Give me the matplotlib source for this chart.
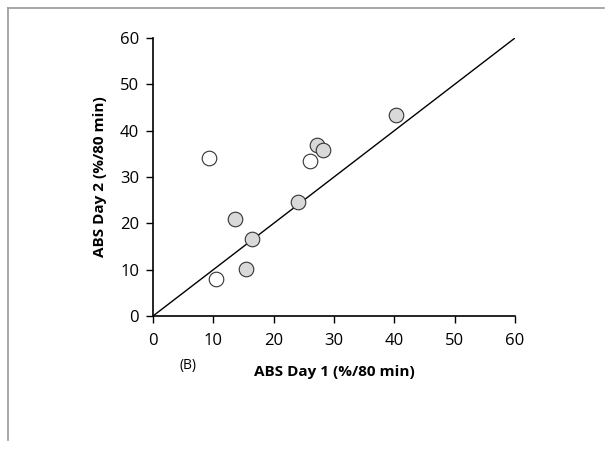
import matplotlib
matplotlib.use("Agg")
import matplotlib.pyplot as plt
from matplotlib.lines import Line2D

plt.rcParams['font.family'] = ['Open Sans', 'DejaVu Sans']

# Data
open_x = [9.2, 10.4, 26.0]
open_y = [34.1, 7.9, 33.4]
gray_x = [13.6, 15.4, 16.4, 24.0, 27.1, 28.1, 40.2]
gray_y = [20.9, 10.2, 16.7, 24.5, 36.8, 35.8, 43.3]
identity = [0, 60]
ticks = [0, 10, 20, 30, 40, 50, 60]

fig = plt.figure(figsize=(6.12, 4.49), dpi=100)
ax = fig.add_axes([0.25, 0.2962, 0.5915, 0.6192])

ax.plot(identity, identity, color='black', lw=1.0, zorder=1)
ax.plot(gray_x, gray_y, 'o', ms=10.5, mfc='#d9d9d9', mec='#333333', mew=0.8, zorder=3)
ax.plot(open_x, open_y, 'o', ms=10.5, mfc='white', mec='#333333', mew=0.8, zorder=3)

ax.set_xlim(0, 60)
ax.set_ylim(0, 60)
ax.set_xticks(ticks)
ax.set_yticks(ticks)
ax.tick_params(direction='out', length=5, width=1, labelsize=12, pad=5)
ax.tick_params(axis='x', pad=7)
for s in ['top', 'right']:
    ax.spines[s].set_visible(False)
for s in ['left', 'bottom']:
    ax.spines[s].set_linewidth(1.2)

ax.set_xlabel('ABS Day 1 (%/80 min)', fontsize=11, fontweight='bold', labelpad=12)
ax.set_ylabel('ABS Day 2 (%/80 min)', fontsize=11, fontweight='bold', labelpad=9)
fig.text(188/612, 1 - 366/449, '(B)', fontsize=10, ha='center', va='center')

# partial frame
fig.add_artist(Line2D([8/612, 604/612], [1 - 8/449, 1 - 8/449], color='#999999', lw=1.2, transform=fig.transFigure))
fig.add_artist(Line2D([8/612, 8/612], [1 - 8/449, 1 - 440/449], color='#999999', lw=1.2, transform=fig.transFigure))

fig.savefig('out.png', dpi=100)
